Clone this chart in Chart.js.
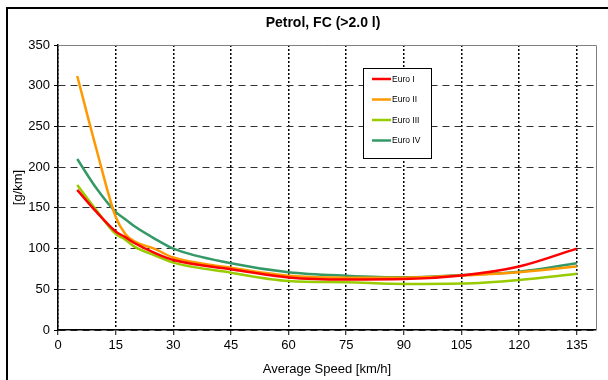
<!DOCTYPE html>
<html>
<head>
<meta charset="utf-8">
<script src="https://cdn.jsdelivr.net/npm/chart.js@4/dist/chart.umd.min.js"></script>
<style>
  html, body { margin: 0; padding: 0; background: #fff; }
  #wrap { width: 608px; height: 380px; position: relative; }
</style>
</head>
<body>
<div id="wrap"><canvas id="chart"></canvas></div>
<script>
// average speed [km/h]
const speeds = [5, 10, 15, 17.5, 20, 25, 30, 45, 60, 75, 90, 105, 120, 135];
const xTicks = [0, 15, 30, 45, 60, 75, 90, 105, 120, 135];

// fuel consumption [g/km]
const euroI   = [172, 145, 121, 114, 106.5, 95, 86, 74.5, 64.5, 62, 62.5, 67, 78, 100];
const euroII  = [312, 222, 139, 118, 108.5, 100, 89, 76.5, 66.7, 64.3, 64.3, 67, 71, 78];
const euroIII = [178, 147, 118, 111, 102, 92, 82.7, 70.4, 60.2, 58.6, 56.5, 57, 61.4, 69];
const euroIV  = [210, 174, 145, 136, 127, 112.6, 100, 82, 71, 66.7, 64.7, 67.5, 71.6, 82];

const seriesNames = ["Euro I", "Euro II", "Euro III", "Euro IV"];
const seriesColors = ["#ff0000", "#ff9900", "#99cc00", "#339966"];

const toPoints = (vals) => vals.map((v, i) => ({ x: speeds[i], y: v }));

const FONT = "Arial, 'Liberation Sans', sans-serif";

// plot frame, outer border, title and boxed legend
const decorations = {
  id: "decorations",
  beforeDatasetsDraw(chart) {
    const { ctx, chartArea: a } = chart;
    ctx.save();
    ctx.strokeStyle = "#808080";
    ctx.lineWidth = 1;
    ctx.beginPath();
    ctx.moveTo(a.left, a.top + 0.5);
    ctx.lineTo(a.right + 0.5, a.top + 0.5);
    ctx.lineTo(a.right + 0.5, a.bottom);
    ctx.stroke();
    ctx.restore();
  },
  afterDraw(chart) {
    const { ctx } = chart;
    ctx.save();
    // outer chart border
    ctx.strokeStyle = "#000";
    ctx.lineWidth = 2;
    ctx.strokeRect(7, 8, 700, 500);

    // title
    ctx.fillStyle = "#000";
    ctx.font = "bold 14px " + FONT;
    ctx.textAlign = "center";
    ctx.textBaseline = "middle";
    ctx.fillText("Petrol, FC (>2.0 l)", 323, 23);

    // legend
    const lx = 363, ly = 68, lw = 68, lh = 90;
    ctx.fillStyle = "#fff";
    ctx.fillRect(lx, ly, lw, lh);
    ctx.strokeStyle = "#000";
    ctx.lineWidth = 1;
    ctx.strokeRect(lx + 0.5, ly + 0.5, lw, lh);
    ctx.font = "8.5px " + FONT;
    ctx.textAlign = "left";
    chart.data.datasets.forEach((ds, i) => {
      const y = ly + 11 + i * 20.5;
      ctx.strokeStyle = ds.borderColor;
      ctx.lineWidth = 2.5;
      ctx.beginPath();
      ctx.moveTo(lx + 9, y);
      ctx.lineTo(lx + 28, y);
      ctx.stroke();
      ctx.fillStyle = "#000";
      ctx.fillText(ds.label, lx + 29, y + 0.5);
    });
    ctx.restore();
  },
};

new Chart(document.getElementById("chart"), {
  type: "line",
  data: {
    datasets: [euroI, euroII, euroIII, euroIV].map((vals, i) => ({
      label: seriesNames[i],
      data: toPoints(vals),
      borderColor: seriesColors[i],
      backgroundColor: seriesColors[i],
      borderWidth: 2.5,
      pointRadius: 0,
      cubicInterpolationMode: "monotone",
      fill: false,
    })),
  },
  options: {
    responsive: true,
    maintainAspectRatio: false,
    animation: false,
    layout: { padding: { left: 0, top: 45, right: 12, bottom: 0 } },
    plugins: {
      legend: { display: false },
      title: { display: false },
      tooltip: { enabled: false },
    },
    scales: {
      x: {
        type: "linear",
        min: 0,
        max: 140,
        afterBuildTicks: (s) => { s.ticks = xTicks.map((v) => ({ value: v })); },
        afterFit: (s) => { s.height = 50; },
        ticks: { color: "#000", font: { family: FONT, size: 13 }, padding: 3 },
        grid: {
          color: "#000",
          lineWidth: 1.5,
          tickLength: 5,
          tickColor: "#000",
          tickBorderDash: [],
          tickWidth: 1,
        },
        border: { color: "#000", width: 1.5, dash: [2, 2] },
        title: {
          display: true,
          text: "Average Speed [km/h]",
          color: "#000",
          font: { family: FONT, size: 13 },
          padding: { top: 0, bottom: 3 },
        },
      },
      y: {
        min: 0,
        max: 350,
        afterFit: (s) => { s.width = 58; },
        ticks: { stepSize: 50, color: "#000", font: { family: FONT, size: 13 }, padding: 4 },
        grid: {
          color: "#333",
          lineWidth: 1,
          tickLength: 4,
          tickColor: "#000",
          tickBorderDash: [],
          tickWidth: 1,
        },
        border: { color: "#000", width: 1.5, dash: [7, 5] },
        title: {
          display: true,
          text: "[g/km]",
          color: "#000",
          font: { family: FONT, size: 13 },
          padding: { top: 11, bottom: 0 },
        },
      },
    },
  },
  plugins: [decorations],
});
</script>
</body>
</html>
